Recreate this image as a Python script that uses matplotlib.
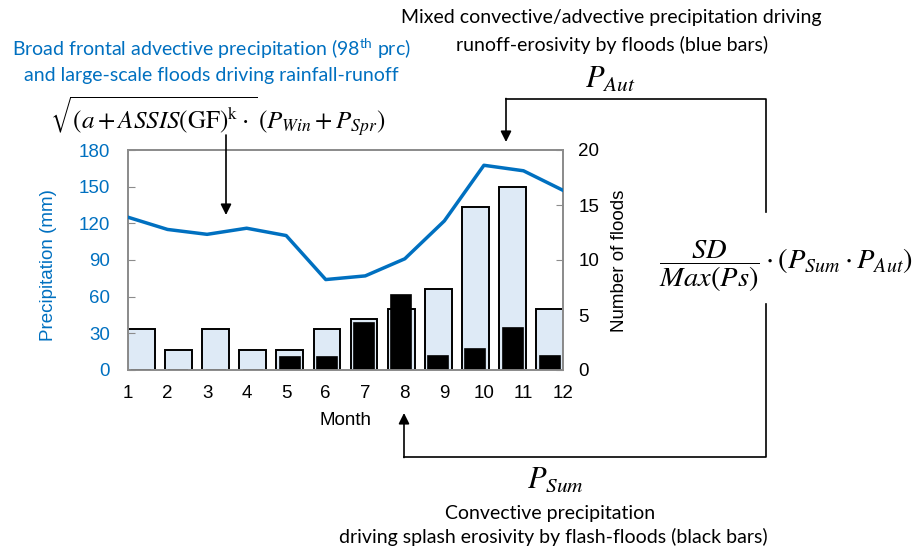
import numpy as np
import matplotlib
matplotlib.use("Agg")
import matplotlib.pyplot as plt
from matplotlib.lines import Line2D

# monthly values
months = list(range(1, 13))
precip_mm = [125, 115, 111, 116, 110, 74, 77, 91, 122, 167.5, 163, 147]
floods_all = [3.7, 1.85, 3.7, 1.85, 1.85, 3.7, 4.6, 5.55, 7.4, 14.8, 16.65, 5.55]
floods_flash = [0, 0, 0, 0, 1.15, 1.15, 4.3, 6.8, 1.27, 1.9, 3.8, 1.27]
precip_ticks = [0, 30, 60, 90, 120, 150, 180]
flood_ticks = [0, 5, 10, 15, 20]

W, H = 922, 549
BLUE = '#0070C0'
GREY = '#8c8c8c'

plt.rcParams['font.family'] = ['Liberation Sans', 'DejaVu Sans']
plt.rcParams['mathtext.fontset'] = 'custom'
plt.rcParams['mathtext.rm'] = 'Lato'
plt.rcParams['mathtext.it'] = 'Lato:italic'


def px(x, y):
    return (x / W, 1 - y / H)


fig = plt.figure(figsize=(W / 100, H / 100), dpi=100)
ax = fig.add_axes([128 / W, 1 - 370 / H, 435 / W, 220 / H])
ax2 = ax.twinx()

# bars fill the category range edge to edge
bw = 0.674
pos = 1 + bw / 2 + np.arange(12) * (11 - bw) / 11
ax2.bar(pos, floods_all, width=bw, color='#DEEAF6', edgecolor='black', linewidth=1.4, zorder=2)
ax2.bar(pos, floods_flash, width=bw * 0.75, color='black', edgecolor='black', linewidth=1.2, zorder=3)
ax2.set_ylim(0, 20)
ax2.set_yticks(flood_ticks)

ax.plot(months, precip_mm, color=BLUE, linewidth=2.5, zorder=4)
ax.set_zorder(ax2.get_zorder() + 1)
ax.patch.set_visible(False)
ax.set_xlim(1, 12)
ax.set_ylim(0, 180)
ax.set_yticks(precip_ticks)
ax.set_xticks(months)

for a in (ax, ax2):
    for s in a.spines.values():
        s.set_color(GREY)
        s.set_linewidth(1.3)
fs = 13.5
ax.tick_params(axis='y', direction='in', length=5, color=GREY, labelcolor=BLUE, labelsize=fs, pad=13)
ax.tick_params(axis='x', length=0, labelsize=fs, pad=11)
ax2.tick_params(axis='y', direction='in', length=5, color=GREY, labelsize=fs, pad=11)

ax.set_xlabel('Month', fontsize=fs, labelpad=7)
ax.set_ylabel('Precipitation (mm)', fontsize=fs, color=BLUE, va='center')
ax.yaxis.set_label_coords((48 - 128) / 435, (370 - 265) / 220)
ax2.set_ylabel('Number of floods', fontsize=fs, va='center', rotation=90)
ax2.yaxis.set_label_coords((619 - 128) / 435, (370 - 261) / 220)

# annotations
tkw = dict(family=['Lato', 'DejaVu Sans'], fontsize=14, ha='center', va='center')
fig.text(*px(211, 49), 'Broad frontal advective precipitation (98$^{\\mathrm{th}}$ prc)', color=BLUE, **tkw)
fig.text(*px(211, 75), 'and large-scale floods driving rainfall-runoff', color=BLUE, **tkw)
fig.text(*px(611, 17), 'Mixed convective/advective precipitation driving', **tkw)
fig.text(*px(612, 45), 'runoff-erosivity by floods (blue bars)', **tkw)
fig.text(*px(550, 513), 'Convective precipitation', **tkw)
fig.text(*px(553, 537), 'driving splash erosivity by flash-floods (black bars)', **tkw)

fig.text(*px(218, 117), r'$\sqrt{(a + ASSIS(\mathrm{GF})^{\mathrm{k}}\cdot}\,(P_{Win} + P_{Spr})$',
         fontsize=18, ha='center', va='center', math_fontfamily='stix')
fig.text(*px(786, 266), r'$\dfrac{SD}{Max(Ps)}\cdot(P_{Sum}\cdot P_{Aut})$',
         fontsize=20.5, ha='center', va='center', math_fontfamily='stix')
fig.text(*px(610, 80), r'$P_{Aut}$', fontsize=22, ha='center', va='center', math_fontfamily='stix')
fig.text(*px(556, 480), r'$P_{Sum}$', fontsize=22, ha='center', va='center', math_fontfamily='stix')

akw = dict(arrowstyle='-|>', color='black', lw=1.2, mutation_scale=16, shrinkA=0, shrinkB=0)
fig.add_artist(Line2D([766 / W, 766 / W, 506 / W], [1 - 212 / H, 1 - 99 / H, 1 - 99 / H],
                      color='black', lw=1.2, transform=fig.transFigure))
fig.add_artist(Line2D([766 / W, 766 / W, 404 / W], [1 - 304 / H, 1 - 457 / H, 1 - 457 / H],
                      color='black', lw=1.2, transform=fig.transFigure))
ax.annotate('', xy=px(506, 142), xytext=px(506, 98.5), xycoords='figure fraction', arrowprops=akw)
ax.annotate('', xy=px(404, 413), xytext=px(404, 457.5), xycoords='figure fraction', arrowprops=akw)
ax.annotate('', xy=px(226, 215), xytext=px(226, 135), xycoords='figure fraction', arrowprops=akw)

fig.savefig('out.png', dpi=100)
